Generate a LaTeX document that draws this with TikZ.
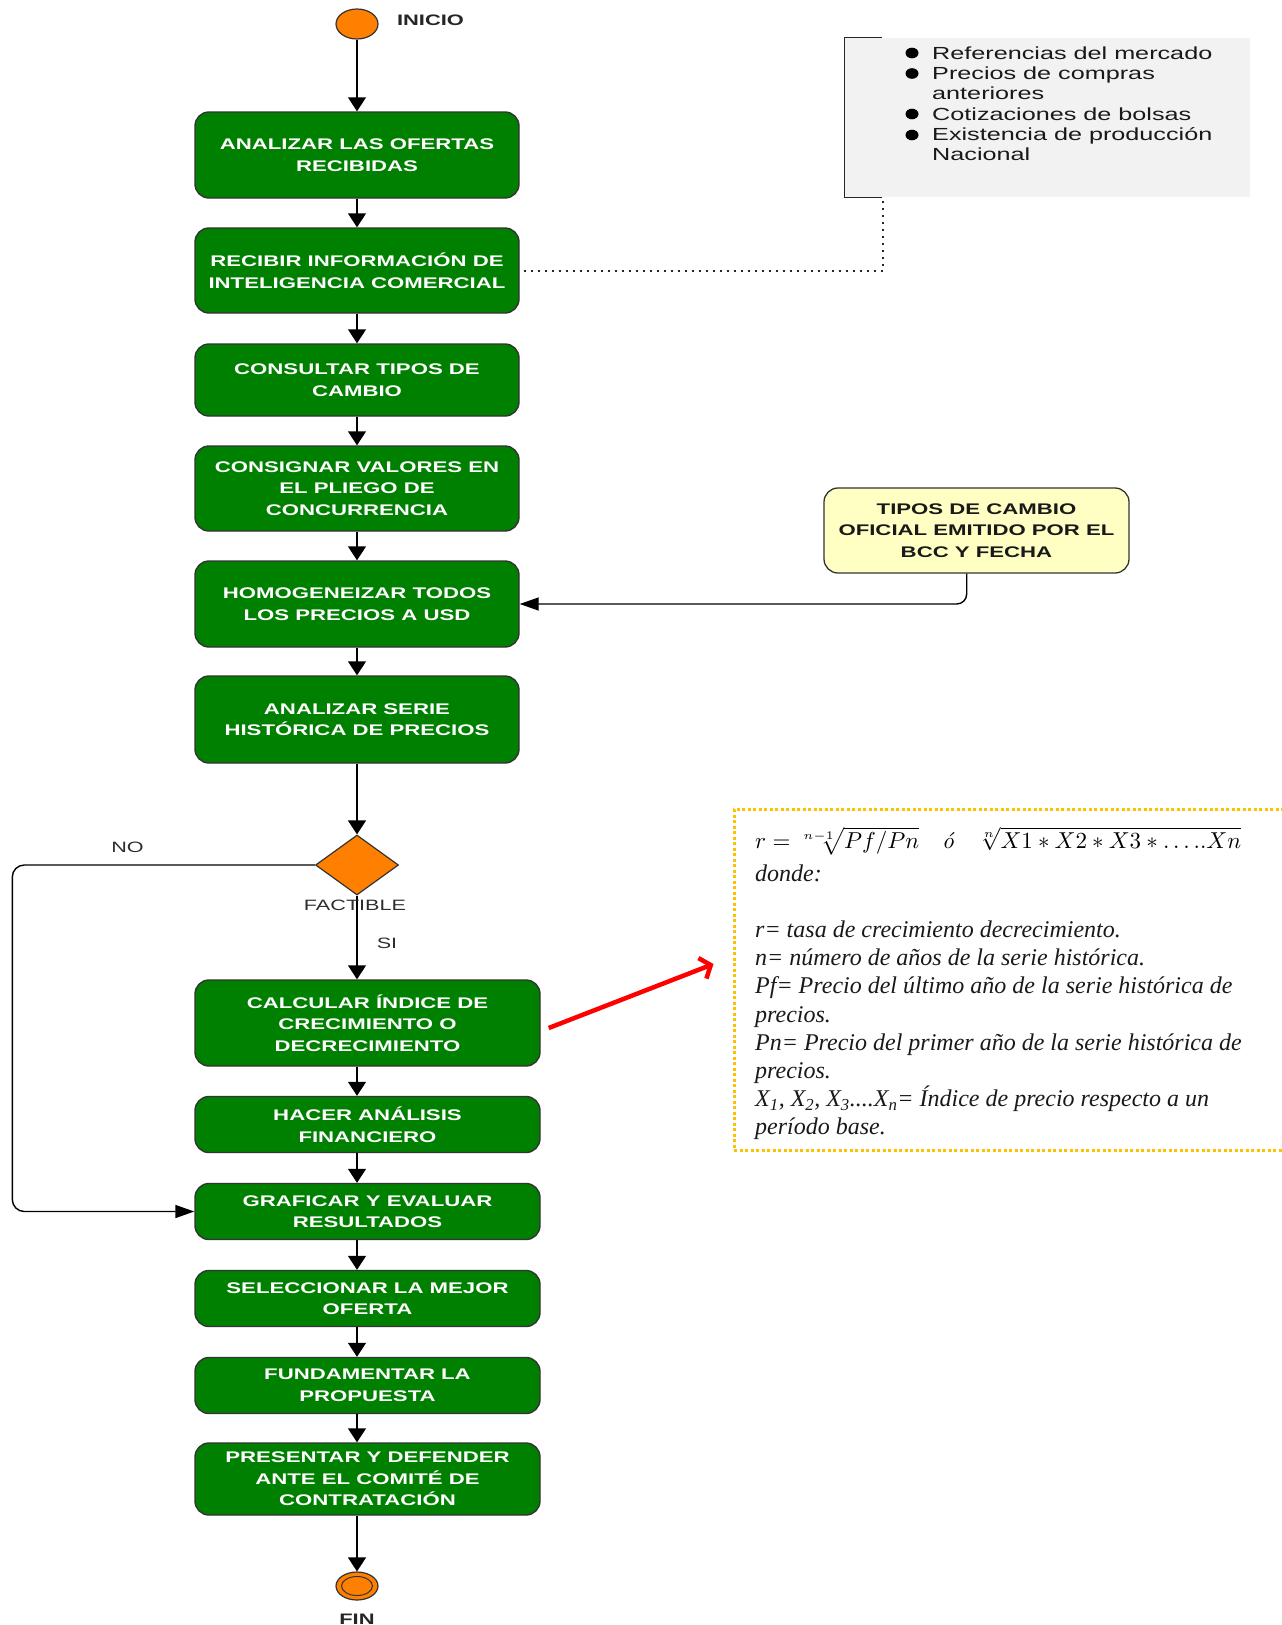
\documentclass[tikz,border=0pt]{standalone}
\usepackage{fontspec}
\usepackage{graphicx}
\usetikzlibrary{shapes.geometric,arrows.meta,calc}
\newfontfamily\sansw[FakeStretch=1.44]{Liberation Sans}
\newfontfamily\serifit{Liberation Serif}
\definecolor{boxgreen}{RGB}{0,128,0}
\definecolor{orng}{RGB}{255,128,0}
\definecolor{paleyellow}{RGB}{255,255,196}
\definecolor{lightgray}{RGB}{242,242,242}
\definecolor{gold}{RGB}{255,192,0}
\definecolor{labelgray}{RGB}{45,45,45}
\begin{document}
\begin{tikzpicture}[x=1pt,y=-1pt,
  greenbox/.style={draw=black!80, line width=1.4pt, fill=boxgreen, rounded corners=14pt,
    text=white, font=\sansw\bfseries\fontsize{15.4}{21.5}\selectfont, align=center, inner sep=0pt},
  upbox/.style={greenbox, minimum width=324pt},
  lowbox/.style={greenbox, minimum width=345pt},
  flowv/.style={draw=black, line width=1.4pt, -{Triangle[length=14pt,width=18pt]}},
  flowh/.style={draw=black, line width=1.4pt, -{Triangle[length=19pt,width=13pt]}},
  term/.style={ellipse, draw=black!80, line width=1.2pt, fill=orng, inner sep=0pt},
  lbl/.style={inner sep=0pt, text=labelgray, font=\sansw\fontsize{15}{18}\selectfont},
  blbl/.style={inner sep=0pt, text=black!85, font=\sansw\bfseries\fontsize{15.2}{18}\selectfont},
  ftext/.style={anchor=base west, inner sep=0pt, text=black!90, font=\serifit\itshape\fontsize{24}{28}\selectfont},
  dotline/.style={draw=black!85, line width=2pt, dash pattern=on 2pt off 5pt}
]
\useasboundingbox (0,0) rectangle (1282,1625);

% start / end
\node[term, minimum width=42pt, minimum height=30pt] (start) at (357,24) {};
\node[blbl] (inicio) at (430.5,20.5) {INICIO};

% upper boxes
\node[upbox, minimum height=86pt] (b1) at (357,155) {ANALIZAR LAS OFERTAS\\RECIBIDAS};
\node[upbox, minimum height=85pt] (b2) at (357,270.5) {RECIBIR INFORMACIÓN DE\\INTELIGENCIA COMERCIAL};
\node[upbox, minimum height=72pt] (b3) at (357,380) {CONSULTAR TIPOS DE\\CAMBIO};
\node[upbox, minimum height=85pt] (b4) at (357,488.5) {CONSIGNAR VALORES EN\\EL PLIEGO DE\\CONCURRENCIA};
\node[upbox, minimum height=86pt] (b5) at (357,604) {HOMOGENEIZAR TODOS\\LOS PRECIOS A USD};
\node[upbox, minimum height=87pt] (b6) at (357,719.5) {ANALIZAR SERIE\\HISTÓRICA DE PRECIOS};

% decision
\node[diamond, aspect=1.38, draw=black!80, line width=1.2pt, fill=orng, minimum width=83pt, minimum height=60pt, inner sep=0pt] (dia) at (357,865) {};

% lower boxes
\node[lowbox, minimum height=86pt] (b7) at (367.5,1023) {CALCULAR ÍNDICE DE\\CRECIMIENTO O\\DECRECIMIENTO};
\node[lowbox, minimum height=56pt] (b8) at (367.5,1124.5) {HACER ANÁLISIS\\FINANCIERO};
\node[lowbox, minimum height=56pt] (b9) at (367.5,1211.5) {GRAFICAR Y EVALUAR\\RESULTADOS};
\node[lowbox, minimum height=56pt] (b10) at (367.5,1298.5) {SELECCIONAR LA MEJOR\\OFERTA};
\node[lowbox, minimum height=56pt] (b11) at (367.5,1385.5) {FUNDAMENTAR LA\\PROPUESTA};
\node[lowbox, minimum height=72pt] (b12) at (367.5,1479) {PRESENTAR Y DEFENDER\\ANTE EL COMITÉ DE\\CONTRATACIÓN};

\node[term, minimum width=42pt, minimum height=28pt] (fin) at (357,1586) {};
\node[term, line width=1pt, minimum width=31pt, minimum height=19pt] (finin) at (fin.center) {};
\node[blbl] (finl) at (357,1619) {FIN};

% main flow
\draw[flowv] (start.south) -- (b1.north);
\draw[flowv] (b1.south) -- (b2.north);
\draw[flowv] (b2.south) -- (b3.north);
\draw[flowv] (b3.south) -- (b4.north);
\draw[flowv] (b4.south) -- (b5.north);
\draw[flowv] (b5.south) -- (b6.north);
\draw[flowv] (b6.south) -- (dia.north);
\draw[flowv] (dia.south) -- (dia.south |- b7.north);
\draw[flowv] (b7.south -| dia.south) -- (b8.north -| dia.south);
\draw[flowv] (b8.south -| dia.south) -- (b9.north -| dia.south);
\draw[flowv] (b9.south -| dia.south) -- (b10.north -| dia.south);
\draw[flowv] (b10.south -| dia.south) -- (b11.north -| dia.south);
\draw[flowv] (b11.south -| dia.south) -- (b12.north -| dia.south);
\draw[flowv] (b12.south -| dia.south) -- (fin.north);

% NO branch
\coordinate (n1) at (12.3,865);
\coordinate (n2) at (12.3,1211.5);
\draw[flowh, rounded corners=12pt] (dia.west) -- (n1) -- (n2) -- (b9.west);
\node[lbl] (no) at (127.5,847) {NO};
\node[lbl] (fact) at (355,905) {FACTIBLE};
\node[lbl] (si) at (387,943) {SI};

% grey info box
\node[fill=lightgray, minimum width=405pt, minimum height=159pt, inner sep=0pt] (gray) at (1047.5,117.5) {};
\draw[line width=1.3pt, black!85] ($(gray.north west)+(37,0)$) -- (gray.north west) -- (gray.south west) -- ($(gray.south west)+(37,0)$);
\foreach \yy in {53,73.5,114,135} \fill[black] (912,\yy) ellipse [x radius=6.5pt, y radius=5.3pt];
\node[anchor=north west, align=left, inner sep=0pt, text=black!90, font=\sansw\fontsize{17.5}{20.3}\selectfont] (blist) at (932,46.5)
  {Referencias del mercado\\Precios de compras\\anteriores\\Cotizaciones de bolsas\\Existencia de producción\\Nacional};
\coordinate (dc) at (883,270.5);
\draw[dotline] ($(b2.east)+(4,0)$) -- (dc) -- (dc |- gray.south);

% yellow box
\node[draw=black!80, line width=1.3pt, fill=paleyellow, rounded corners=14pt, minimum width=305pt, minimum height=85pt,
  align=center, inner sep=0pt, text=black!90, font=\sansw\bfseries\fontsize{15.4}{21.5}\selectfont] (yb) at (976.5,530.5)
  {TIPOS DE CAMBIO\\OFICIAL EMITIDO POR EL\\BCC Y FECHA};
\coordinate (yc) at (966.7,604);
\draw[flowh, rounded corners=10pt] (yc |- yb.south) -- (yc) -- (b5.east);

% formula box
\node[draw=gold, line width=3pt, dash pattern=on 3pt off 2.5pt, minimum width=561pt, minimum height=341pt, inner sep=0pt] (fbox) at (1014.5,979.5) {};
\node[anchor=west, inner sep=0pt] (form) at (755,841)
  {\resizebox{486pt}{!}{$r=\sqrt[n-1]{Pf/Pn}$\quad\textit{ó}\quad$\sqrt[n]{X1*X2*X3*\ldots..Xn}$}};
\node[ftext] (f1) at (755,881.5) {donde:};
\node[ftext] (f2) at (755,937.5) {r= tasa de crecimiento decrecimiento.};
\node[ftext] (f3) at (755,965.5) {n= número de años de la serie histórica.};
\node[ftext] (f4) at (755,993.5) {Pf= Precio del último año de la serie histórica de};
\node[ftext] (f5) at (755,1022.5) {precios.};
\node[ftext] (f6) at (755,1050.5) {Pn= Precio del primer año de la serie histórica de};
\node[ftext] (f7) at (755,1078.5) {precios.};
\node[ftext] (f8) at (755,1106.5) {X\textsubscript{1}, X\textsubscript{2}, X\textsubscript{3}....X\textsubscript{n}= Índice de precio respecto a un};
\node[ftext] (f9) at (755,1134.5) {período base.};

% red arrow
\draw[red, line width=4.5pt, -{Straight Barb[length=9pt,width=22pt]}] ($(b7.east)+(8,5)$) -- ($(fbox.west)+(-19,-15.5)$);
\end{tikzpicture}
\end{document}
